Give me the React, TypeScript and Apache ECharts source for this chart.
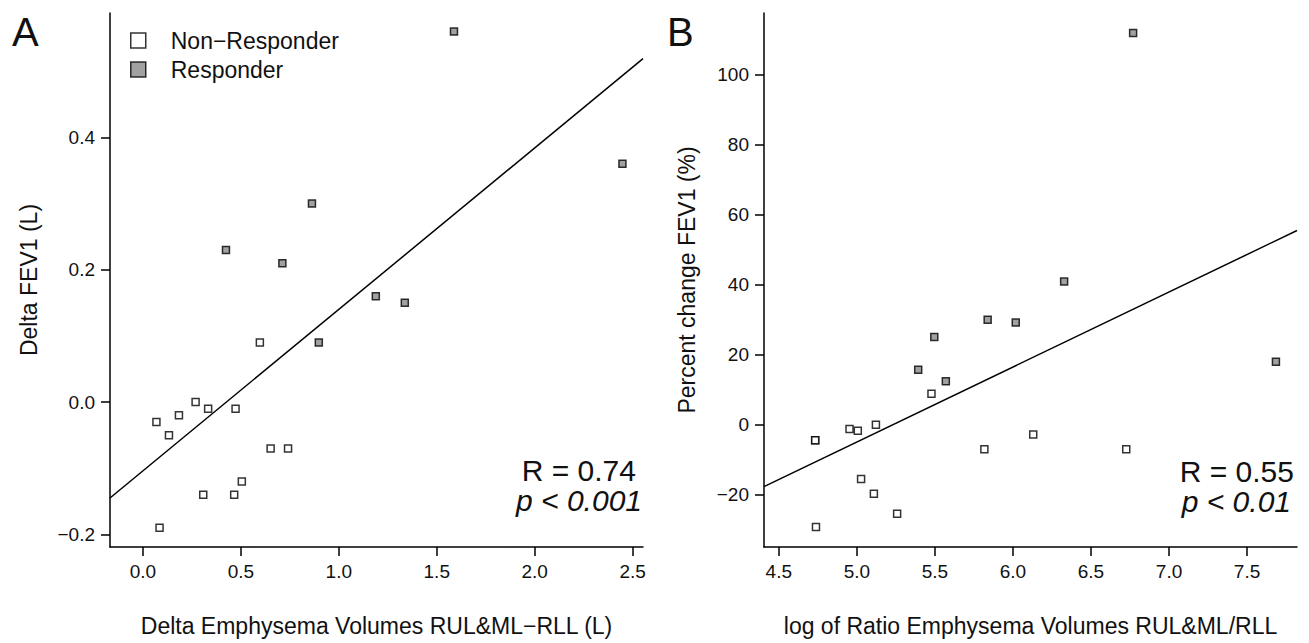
import React, { useEffect, useRef } from "react";
import * as echarts from "echarts";

// Panel A: Delta emphysema volumes vs Delta FEV1
const aNonX = [0.069, 0.133, 0.184, 0.269, 0.333, 0.473, 0.597, 0.652, 0.741, 0.505, 0.308, 0.466, 0.085];
const aNonY = [-0.03, -0.05, -0.02, 0.0, -0.01, -0.01, 0.09, -0.07, -0.07, -0.12, -0.14, -0.14, -0.19];
const aRespX = [0.424, 0.712, 0.863, 0.898, 1.189, 1.337, 1.588, 2.448];
const aRespY = [0.23, 0.21, 0.3, 0.09, 0.16, 0.15, 0.56, 0.36];

// Panel B: log ratio vs percent change FEV1
const bNonX = [4.733, 4.733, 4.953, 5.006, 5.122, 5.478, 5.817, 6.13, 6.726, 5.027, 5.109, 5.258, 4.738];
const bNonY = [-4.4, -4.4, -1.2, -1.7, 0.0, 8.9, -7.0, -2.8, -7.0, -15.5, -19.7, -25.4, -29.2];
const bRespX = [5.393, 5.496, 5.57, 5.838, 6.018, 7.685, 6.328, 6.77];
const bRespY = [15.7, 25.1, 12.4, 30.0, 29.2, 18.0, 40.9, 111.9];

// Tick values
const aXTicks = [0, 0.5, 1.0, 1.5, 2.0, 2.5];
const aYTicks = [-0.2, 0.0, 0.2, 0.4];
const bXTicks = [4.5, 5.0, 5.5, 6.0, 6.5, 7.0, 7.5];
const bYTicks = [-20, 0, 20, 40, 60, 80, 100];

// Axis ranges
const aXRange = [-0.168, 2.553];
const aYRange = [-0.219, 0.588];
const bXRange = [4.405, 7.82];
const bYRange = [-34.9, 117.6];

const legendNames = ["Non\u2212Responder", "Responder"];
const statsA = ["R = 0.74", "p < 0.001"];
const statsB = ["R = 0.55", "p < 0.01"];
const panelLabels = ["A", "B"];
const axisTitles = {
  aX: "Delta Emphysema Volumes RUL&ML\u2212RLL (L)",
  aY: "Delta FEV1 (L)",
  bX: "log of Ratio Emphysema Volumes RUL&ML/RLL",
  bY: "Percent change FEV1 (%)",
};

const FONT = "'Liberation Sans', Arial, Helvetica, sans-serif";
const TXT = "#111111";
const GRAY = "#8a8a8a";

function zip(xs: number[], ys: number[]) {
  return xs.map((x, i) => [x, ys[i]]);
}

function fitLine(xs: number[], ys: number[], range: number[]) {
  const n = xs.length;
  const mx = xs.reduce((a, b) => a + b, 0) / n;
  const my = ys.reduce((a, b) => a + b, 0) / n;
  let sxy = 0;
  let sxx = 0;
  for (let i = 0; i < n; i++) {
    sxy += (xs[i] - mx) * (ys[i] - my);
    sxx += (xs[i] - mx) * (xs[i] - mx);
  }
  const slope = sxy / sxx;
  const icpt = my - slope * mx;
  return range.map((x) => [x, icpt + slope * x]);
}

const minus = (s: string) => s.replace("-", "\u2212");

function makeXAxis(grid: number, range: number[], ticks: number[], fmt: (v: number) => string, name: string) {
  return {
    gridIndex: grid,
    type: "value",
    min: range[0],
    max: range[1],
    axisLine: { show: true, onZero: false, lineStyle: { color: "#000", width: 1.5 } },
    axisTick: { show: true, customValues: ticks, length: 9, lineStyle: { color: "#000", width: 1.5 } },
    axisLabel: { show: true, customValues: ticks, formatter: fmt, fontSize: 19, color: TXT, margin: 15, fontFamily: FONT },
    splitLine: { show: false },
    name,
    nameLocation: "middle",
    nameGap: 67,
    nameTextStyle: { fontSize: 23, color: TXT, fontFamily: FONT },
  };
}

function makeYAxis(grid: number, range: number[], ticks: number[], fmt: (v: number) => string, name: string, gap: number) {
  return {
    gridIndex: grid,
    type: "value",
    min: range[0],
    max: range[1],
    axisLine: { show: true, onZero: false, lineStyle: { color: "#000", width: 1.5 } },
    axisTick: { show: true, customValues: ticks, length: 9, lineStyle: { color: "#000", width: 1.5 } },
    axisLabel: { show: true, customValues: ticks, formatter: fmt, fontSize: 19, color: TXT, margin: 15, fontFamily: FONT },
    splitLine: { show: false },
    name,
    nameLocation: "middle",
    nameGap: gap,
    nameTextStyle: { fontSize: 23, color: TXT, fontFamily: FONT },
  };
}

const nonStyle = { color: "#ffffff", borderColor: "#000", borderWidth: 1.5 };
const respStyle = { color: GRAY, borderColor: "#000", borderWidth: 1.5 };

export default function App() {
  const ref = useRef<HTMLDivElement>(null);

  useEffect(() => {
    if (!ref.current) return;
    const chart = echarts.init(ref.current, undefined, { renderer: "svg" });
    const fmtA = (v: number) => minus(v.toFixed(1));
    const fmtB = (v: number) => minus(String(v));

    const option = {
      animation: false,
      backgroundColor: "#ffffff",
      textStyle: { fontFamily: FONT },
      grid: [
        { left: 110, top: 13, width: 533, height: 534 },
        { left: 764, top: 13, width: 533, height: 534 },
      ],
      xAxis: [
        makeXAxis(0, aXRange, aXTicks, fmtA, axisTitles.aX),
        makeXAxis(1, bXRange, bXTicks, fmtA, axisTitles.bX),
      ],
      yAxis: [
        makeYAxis(0, aYRange, aYTicks, fmtA, axisTitles.aY, 70),
        makeYAxis(1, bYRange, bYTicks, fmtB, axisTitles.bY, 66),
      ],
      legend: {
        show: true,
        orient: "vertical",
        left: 130,
        top: 29,
        padding: 0,
        itemWidth: 15,
        itemHeight: 15,
        itemGap: 6,
        icon: "rect",
        selectedMode: false,
        textStyle: { fontSize: 23, color: TXT, fontFamily: FONT, padding: [0, 0, 0, 20] },
        data: [
          { name: legendNames[0], itemStyle: nonStyle },
          { name: legendNames[1], itemStyle: respStyle },
        ],
      },
      series: [
        {
          type: "line",
          xAxisIndex: 0,
          yAxisIndex: 0,
          data: fitLine(aNonX.concat(aRespX), aNonY.concat(aRespY), aXRange),
          showSymbol: false,
          symbol: "none",
          lineStyle: { color: "#000", width: 1.5 },
          silent: true,
          z: 1,
        },
        {
          name: legendNames[0],
          type: "scatter",
          xAxisIndex: 0,
          yAxisIndex: 0,
          symbol: "rect",
          symbolSize: 7,
          data: zip(aNonX, aNonY),
          itemStyle: nonStyle,
          z: 3,
        },
        {
          name: legendNames[1],
          type: "scatter",
          xAxisIndex: 0,
          yAxisIndex: 0,
          symbol: "rect",
          symbolSize: 7,
          data: zip(aRespX, aRespY),
          itemStyle: respStyle,
          z: 3,
        },
        {
          type: "line",
          xAxisIndex: 1,
          yAxisIndex: 1,
          data: fitLine(bNonX.concat(bRespX), bNonY.concat(bRespY), bXRange),
          showSymbol: false,
          symbol: "none",
          lineStyle: { color: "#000", width: 1.5 },
          silent: true,
          z: 1,
        },
        {
          name: legendNames[0],
          type: "scatter",
          xAxisIndex: 1,
          yAxisIndex: 1,
          symbol: "rect",
          symbolSize: 7,
          data: zip(bNonX, bNonY),
          itemStyle: nonStyle,
          z: 3,
        },
        {
          name: legendNames[1],
          type: "scatter",
          xAxisIndex: 1,
          yAxisIndex: 1,
          symbol: "rect",
          symbolSize: 7,
          data: zip(bRespX, bRespY),
          itemStyle: respStyle,
          z: 3,
        },
      ],
      graphic: [
        { type: "text", left: 12, top: 12, style: { text: panelLabels[0], fontSize: 40, fill: TXT, fontFamily: FONT } },
        { type: "text", left: 667, top: 12, style: { text: panelLabels[1], fontSize: 40, fill: TXT, fontFamily: FONT } },
        { type: "text", x: 636, y: 470, style: { text: statsA[0], fontSize: 30, fill: TXT, fontFamily: FONT, align: "right", verticalAlign: "middle" } },
        { type: "text", x: 642, y: 500, style: { text: statsA[1], fontSize: 30, fontStyle: "italic", fill: TXT, fontFamily: FONT, align: "right", verticalAlign: "middle" } },
        { type: "text", x: 1294, y: 471, style: { text: statsB[0], fontSize: 30, fill: TXT, fontFamily: FONT, align: "right", verticalAlign: "middle" } },
        { type: "text", x: 1291, y: 501, style: { text: statsB[1], fontSize: 30, fontStyle: "italic", fill: TXT, fontFamily: FONT, align: "right", verticalAlign: "middle" } },
      ],
    };
    chart.setOption(option as any);
    return () => chart.dispose();
  }, []);

  return (
    <div
      ref={ref}
      style={{ position: "fixed", left: 0, top: 0, width: 1309, height: 643, background: "#fff" }}
    />
  );
}
